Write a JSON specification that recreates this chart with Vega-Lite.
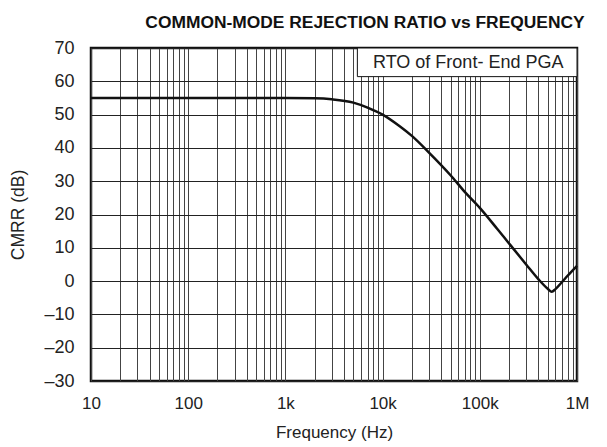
{
  "$schema": "https://vega.github.io/schema/vega-lite/v6.json",
  "autosize": "none",
  "width": 486,
  "height": 333,
  "padding": {"left": 91, "top": 48, "right": 30, "bottom": 66},
  "background": "white",
  "config": {
    "font": "Liberation Sans",
    "view": {"stroke": "#111", "strokeWidth": 2.5}
  },
  "title": {
    "text": "COMMON-MODE REJECTION RATIO vs FREQUENCY",
    "fontSize": 17.4,
    "fontWeight": "bold",
    "color": "#111",
    "anchor": "middle",
    "frame": "group",
    "dx": 31,
    "offset": 8
  },
  "data": {
    "values": [
      {"f": 10, "cmrr": 55},
      {"f": 100, "cmrr": 55},
      {"f": 1000, "cmrr": 55},
      {"f": 2000, "cmrr": 54.9},
      {"f": 3000, "cmrr": 54.6},
      {"f": 5000, "cmrr": 53.6},
      {"f": 7000, "cmrr": 52.1},
      {"f": 10000, "cmrr": 50},
      {"f": 15000, "cmrr": 46.5},
      {"f": 20000, "cmrr": 43.6},
      {"f": 30000, "cmrr": 38.6},
      {"f": 50000, "cmrr": 31.8},
      {"f": 70000, "cmrr": 26.8},
      {"f": 100000, "cmrr": 22},
      {"f": 150000, "cmrr": 15.8},
      {"f": 200000, "cmrr": 11.3},
      {"f": 300000, "cmrr": 5},
      {"f": 400000, "cmrr": 0.6},
      {"f": 500000, "cmrr": -2.3},
      {"f": 550000, "cmrr": -3.2},
      {"f": 600000, "cmrr": -2.4},
      {"f": 700000, "cmrr": -0.3},
      {"f": 800000, "cmrr": 1.6},
      {"f": 1000000, "cmrr": 4.6}
    ]
  },
  "encoding": {
    "x": {
      "field": "f",
      "type": "quantitative",
      "scale": {"type": "log", "domain": [10, 1000000], "nice": false},
      "axis": {
        "title": "Frequency (Hz)",
        "titleFontSize": 17,
        "titleFontWeight": "normal",
        "titleColor": "#222",
        "titlePadding": 13,
        "labelFontSize": 17,
        "labelColor": "#222",
        "labelPadding": 14,
        "labelFlush": false,
        "labelOverlap": false,
        "domain": false,
        "ticks": false,
        "grid": true,
        "gridColor": "#444",
        "gridWidth": 1,
        "values": [10,20,30,40,50,60,70,80,90,100,200,300,400,500,600,700,800,900,1000,2000,3000,4000,5000,6000,7000,8000,9000,10000,20000,30000,40000,50000,60000,70000,80000,90000,100000,200000,300000,400000,500000,600000,700000,800000,900000,1000000],
        "labelExpr": "datum.value == 10 ? '10' : datum.value == 100 ? '100' : datum.value == 1000 ? '1k' : datum.value == 10000 ? '10k' : datum.value == 100000 ? '100k' : datum.value == 1000000 ? '1M' : ''"
      }
    },
    "y": {
      "field": "cmrr",
      "type": "quantitative",
      "scale": {"domain": [-30, 70], "nice": false},
      "axis": {
        "title": "CMRR (dB)",
        "titleFontSize": 17.5,
        "titleFontWeight": "normal",
        "titleColor": "#222",
        "titlePadding": 16,
        "labelFontSize": 18,
        "labelColor": "#222",
        "labelPadding": 17,
        "labelFlush": false,
        "labelOverlap": false,
        "domain": false,
        "ticks": false,
        "grid": true,
        "gridColor": "#222",
        "gridWidth": 1,
        "values": [-30,-20,-10,0,10,20,30,40,50,60,70],
        "labelExpr": "replace(datum.label, '−', '–')"
      }
    }
  },
  "layer": [
    {
      "mark": {"type": "line", "color": "#111", "strokeWidth": 2.5, "interpolate": "monotone"}
    },
    {
      "transform": [{"filter": "datum.f == 10"}],
      "mark": {"type": "rect", "fill": "white", "stroke": "#111", "strokeWidth": 1},
      "encoding": {
        "x": {"datum": 5500, "type": "quantitative"},
        "x2": {"datum": 1000000},
        "y": {"datum": 70, "type": "quantitative"},
        "y2": {"datum": 61.4}
      }
    },
    {
      "transform": [{"filter": "datum.f == 10"}],
      "mark": {"type": "text", "text": "RTO of Front- End PGA", "fontSize": 18, "color": "#222", "align": "center", "baseline": "middle"},
      "encoding": {
        "x": {"datum": 76000, "type": "quantitative"},
        "y": {"datum": 65.5, "type": "quantitative"}
      }
    }
  ]
}
